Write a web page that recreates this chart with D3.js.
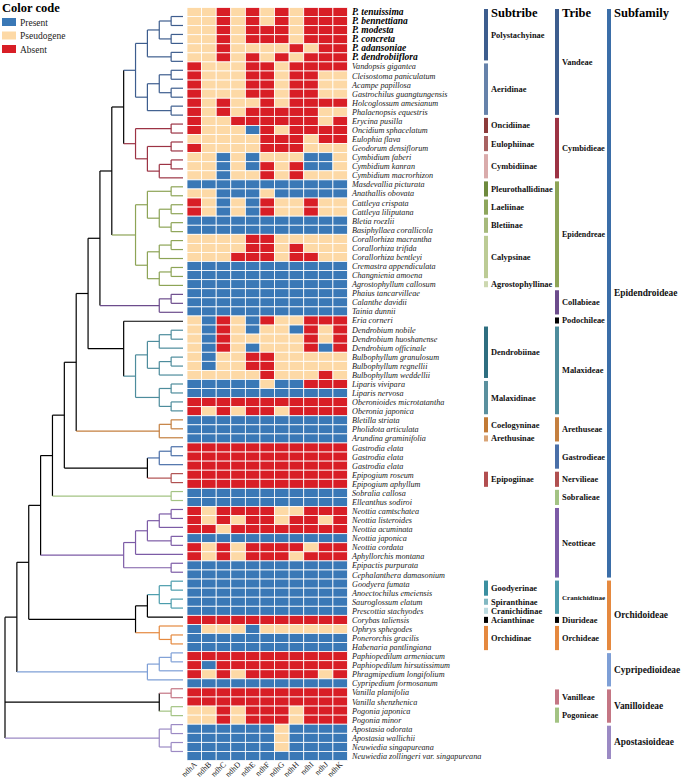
<!DOCTYPE html>
<html>
<head>
<meta charset="utf-8">
<script src="https://cdn.jsdelivr.net/npm/d3@7"></script>
<style>
  body { margin: 0; background: #fff; }
  svg { display: block; font-family: "Liberation Serif", "DejaVu Serif", serif; }
</style>
</head>
<body>
<svg id="chart" width="685" height="782"></svg>
<script>
// genes (columns)
const genes = ['ndhA','ndhB','ndhC','ndhD','ndhE','ndhF','ndhG','ndhH','ndhI','ndhJ','ndhK'];

// species (rows, top to bottom)
const species = [
  'P. tenuissima','P. bennettiana','P. modesta','P. concreta','P. adansoniae','P. dendrobiiflora',
  'Vandopsis gigantea','Cleisostoma paniculatum','Acampe papillosa','Gastrochilus guangtungensis',
  'Holcoglossum amesianum','Phalaenopsis equestris','Erycina pusilla','Oncidium sphacelatum',
  'Eulophia flava','Geodorum densiflorum','Cymbidium faberi','Cymbidium kanran','Cymbidium macrorhizon',
  'Masdevallia picturata','Anathallis obovata','Cattleya crispata','Cattleya liliputana','Bletia roezlii',
  'Basiphyllaea corallicola','Corallorhiza macrantha','Corallorhiza trifida','Corallorhiza bentleyi',
  'Cremastra appendiculata','Changnienia amoena','Agrostophyllum callosum','Phaius tancarvilleae',
  'Calanthe davidii','Tainia dunnii','Eria corneri','Dendrobium nobile','Dendrobium huoshanense',
  'Dendrobium officinale','Bulbophyllum granulosum','Bulbophyllum regnellii','Bulbophyllum weddellii',
  'Liparis vivipara','Liparis nervosa','Oberonioides microtatantha','Oberonia japonica','Bletilla striata',
  'Pholidota articulata','Arundina graminifolia','Gastrodia elata','Gastrodia elata','Gastrodia elata',
  'Epipogium roseum','Epipogium aphyllum','Sobralia callosa','Elleanthus sodiroi','Neottia camtschatea',
  'Neottia listeroides','Neottia acuminata','Neottia japonica','Neottia cordata','Aphyllorchis montana',
  'Epipactis purpurata','Cephalanthera damasonium','Goodyera fumata','Anoectochilus emeiensis',
  'Sauroglossum elatum','Prescottia stachyodes','Corybas taliensis','Ophrys sphegodes',
  'Ponerorchis gracilis','Habenaria pantlingiana','Paphiopedilum armeniacum','Paphiopedilum hirsutissimum',
  'Phragmipedium longifolium','Cypripedium formosanum','Vanilla planifolia','Vanilla shenzhenica',
  'Pogonia japonica','Pogonia minor','Apostasia odorata','Apostasia wallichii','Neuwiedia singapureana',
  'Neuwiedia zollingeri var. singapureana'
];
const boldRows = 6;

// gene status per species: P = present, S = pseudogene, A = absent (ndhA..ndhK)
const status = [
  'SSASASASAAA','SSASASASAAA','SSASAAASAAA','SSASAAASAAA','SSASSSSASAA','SSASASASAAA',
  'ASSSAASAAAA','ASSSAASAASS','ASSSAASAASS','ASSSAASAASS','ASASSASAAAA','ASASAAAAASS',
  'ASSAAAAAASA','ASSSPASAAAA','SSSSSAAASAA','ASSSSAAASSS','SSPSPSSSPPS','SSPSPASAPPS',
  'SSPSSASASSS','PPPPPPPPPPP','SSPPPSPPPPP','ASPSPASSASS','ASPSPASSASS','PPPPPPPPPPP',
  'PPPPPPPPPPP','SSSSAASSSSS','SSSSAASASSS','SSSAAASAASS','PPPPPPPPPPP','PPPPPPPPPPP',
  'PPPPPPPPPPP','PPPPPPPPPPP','PPPPPPPPPPP','PPPPPPPPPPP','SPASPASSAAA','SPASPSSPASA',
  'SPASSSSSASA','SPASPSSSAPA','SPSSAASSSSS','SPSSAASSSSS','SSSSSASSSAS','PPPPPSPPAAA',
  'PPPPPPPPPPP','AAAAAAAAAAA','ASASAASAAAA','PPPPPPPPPPP','PPPPPPPPPPP','PPPPPPPPPPP',
  'AAAAAAAAAAA','AAAAAAAAAAA','AAAAAAAAAAA','AAAAAAAAAAA','AAAAAAAAAAA','PPPPPPPPPPP',
  'PPPPPPPPPPP','ASAAAASSAAA','ASASAASAASA','AASAAAAAAAA','PPPPPPPPPPP','ASASAAAASAA',
  'ASASAAASAAA','PPPPPPPPPPP','PPPPPPPPPPP','PPPPPPPPPPP','PPPPPPPPPPP','PPPPPPPPPPP',
  'PPPPPPPPPPP','AAAAAAAAAAA','PSSSPSSSSSS','PPPPPPPPPPP','PPPPPPPPPPP','AAAAAAAAAAA',
  'APAAAAAAAAA','ASASAAAAASA','PPPPPPPPPPP','AAAAAAAAAAA','AAAAAAAAAAA','SSASAAASAAA',
  'SSASAAASAAA','PPPPPPSPPPP','PPPPPPSPPPP','PPPPPPSPPPP','PPPPPPPPPPP'
];

// legend
const statusCodes = ['P','S','A'];
const statusNames = ['Present','Pseudogene','Absent'];
const statusColors = ['#3a78b6','#fdd9a6','#d81e26'];

// classification groups (first row, last row; 1-based)
const subtribeNames = ['Polystachyinae','Aeridinae','Oncidiinae','Eulophiinae','Cymbidiinae','Pleurothallidinae',
  'Laeliinae','Bletiinae','Calypsinae','Agrostophyllinae','Dendrobiinae','Malaxidinae','Coelogyninae',
  'Arethusinae','Epipogiinae','Goodyerinae','Spiranthinae','Cranichidinae','Acianthinae','Orchidinae'];
const subtribeStart = [1,7,13,15,17,20,22,24,26,31,36,42,46,48,52,64,66,67,68,69];
const subtribeEnd   = [6,12,14,16,19,21,23,25,30,31,41,45,47,48,53,65,66,67,68,71];
const subtribeColors = ['#3d5d8e','#6682aa','#8c3b3b','#a86262','#d9abab','#6e8a3e','#8ea65c','#a7ba7c',
  '#bccb95','#cdd8b0','#2e6e80','#5a909e','#c27a35','#d9a476','#b24e50','#3b8fa0','#82b8c2','#bcdbe1',
  '#000000','#e5893f'];

const tribeNames = ['Vandeae','Cymbidieae','Epidendreae','Collabieae','Podochileae','Malaxideae','Arethuseae',
  'Gastrodieae','Nervilieae','Sobralieae','Neottieae','Cranichidinae','Diurideae','Orchideae','Vanilleae','Pogonieae'];
const tribeStart = [1,13,20,32,35,36,46,49,52,54,56,64,68,69,76,78];
const tribeEnd   = [12,19,31,34,35,45,48,51,53,55,63,67,68,71,77,79];
const tribeColors = ['#3d5d8e','#9c3344','#8da456','#6c4c8c','#000000','#4d8c9c','#c47f3f','#4a6fa8',
  '#b05050','#a3c383','#7c5ba6','#4b9cac','#000000','#e5893f','#c47684','#a3c383'];

const subfamilyNames = ['Epidendroideae','Orchidoideae','Cypripedioideae','Vanilloideae','Apostasioideae'];
const subfamilyStart = [1,64,72,76,80];
const subfamilyEnd   = [63,71,75,79,83];
const subfamilyColors = ['#3b6ea8','#e5893f','#7e9fd6','#c47684','#9b8ac4'];

// phylogeny topology (leaf = row number)
const tree = [
  [
    [
      [
        [
          [
            [
              [
                [
                  [
                    [
                      [[[[1,2],[3,4]],[5,6]], [[[7,8],[9,10]],[11,12]]],
                      [[13,14],[[15,16],[[17,18],19]]]
                    ],
                    [[[20,21],[[22,23],[24,25]]], [[[26,27],28],[[29,30],31]]]
                  ],
                  [[32,33],34]
                ],
                [35, [[[[36,37],38],[[39,40],41]], [[42,43],[44,45]]]]
              ],
              [[46,47],48]
            ],
            [[[49,50],51],[52,53]]
          ],
          [54,55]
        ],
        [[[[[56,57],58],[59,60]],61],[62,63]]
      ],
      [[[[64,65],[66,67]],68],[69,[70,71]]]
    ],
    [[[72,73],74],75]
  ],
  [[76,77],[78,79]],
  [[80,81],[82,83]]
];

// ---------------------------------------------------------------
const svg = d3.select('#chart');
const n = species.length;
const rowIdx = d3.range(1, n + 1);

const y = d3.scaleBand().domain(rowIdx).range([7.5, 760.5]).paddingInner(0);
const x = d3.scaleBand().domain(genes).range([187, 347.5]).paddingInner(0);
const color = d3.scaleOrdinal().domain(statusCodes).range(statusColors);

// heatmap cells
const cells = [];
status.forEach((s, i) => {
  genes.forEach((g, j) => cells.push({row: i + 1, gene: g, v: s[j]}));
});
svg.append('g').selectAll('rect')
  .data(cells)
  .enter()
  .append('rect')
    .attr('x', d => x(d.gene))
    .attr('y', d => y(d.row))
    .attr('width', x.bandwidth())
    .attr('height', y.bandwidth())
    .attr('fill', d => color(d.v))
    .attr('stroke', '#ffffff')
    .attr('stroke-width', 0.8);

// species labels
svg.append('g').selectAll('text')
  .data(species)
  .enter()
  .append('text')
    .attr('x', 352)
    .attr('y', (d, i) => y(i + 1) + y.bandwidth() / 2 + 3)
    .attr('font-style', 'italic')
    .attr('font-weight', (d, i) => i < boldRows ? 'bold' : 'normal')
    .attr('font-size', (d, i) => i < boldRows ? '9.5px' : '8.2px')
    .attr('fill', (d, i) => i < boldRows ? '#000' : '#222')
    .text(d => d);

// gene labels
svg.append('g').selectAll('text')
  .data(genes)
  .enter()
  .append('text')
    .attr('transform', d => `translate(${x(d) + x.bandwidth() / 2 + 3},765) rotate(-45)`)
    .attr('text-anchor', 'end')
    .attr('font-size', '8px')
    .attr('fill', '#222')
    .text(d => d);

// classification columns
const drawGroups = function(names, starts, ends, colors, barX, header, fs, maxW) {
  const g = svg.append('g');
  g.append('text')
    .attr('x', barX + 7)
    .attr('y', 17)
    .attr('font-weight', 'bold')
    .attr('font-size', '12.5px')
    .text(header);
  names.forEach((nm, i) => {
    const y0 = y(starts[i]) + 1.5;
    const y1 = y(ends[i]) + y.bandwidth() - 1.5;
    g.append('rect')
      .attr('x', barX)
      .attr('y', y0)
      .attr('width', 4)
      .attr('height', Math.max(y1 - y0, 4))
      .attr('fill', colors[i]);
    const t = g.append('text')
      .attr('x', barX + 7)
      .attr('y', (y0 + y1) / 2 + 3)
      .attr('font-weight', 'bold')
      .attr('font-size', fs + 'px')
      .attr('fill', '#111')
      .text(nm);
    // shrink labels that would run into the next column
    const w = t.node().getComputedTextLength();
    if (w > maxW) t.attr('font-size', (fs * maxW / w) + 'px');
  });
};
drawGroups(subtribeNames, subtribeStart, subtribeEnd, subtribeColors, 484, 'Subtribe', 8.4, 62);
drawGroups(tribeNames, tribeStart, tribeEnd, tribeColors, 555, 'Tribe', 8.4, 43);
drawGroups(subfamilyNames, subfamilyStart, subfamilyEnd, subfamilyColors, 607, 'Subfamily', 9.4, 72);

// legend
const leg = svg.append('g');
leg.append('text').attr('x', 2).attr('y', 12)
  .attr('font-weight', 'bold').attr('font-size', '12.5px').text('Color code');
statusNames.forEach((nm, i) => {
  leg.append('rect').attr('x', 2).attr('y', 18 + i * 13.5).attr('width', 14).attr('height', 8)
    .attr('fill', statusColors[i]);
  leg.append('text').attr('x', 20).attr('y', 25.5 + i * 13.5)
    .attr('font-size', '9.5px').attr('fill', '#222').text(nm);
});

// phylogeny
const leafColor = function(r) {
  for (let i = 0; i < tribeNames.length; i++) {
    if (r >= tribeStart[i] && r <= tribeEnd[i]) return tribeColors[i];
  }
  for (let i = 0; i < subfamilyNames.length; i++) {
    if (r >= subfamilyStart[i] && r <= subfamilyEnd[i]) return subfamilyColors[i];
  }
  return '#000';
};
const root = d3.hierarchy(tree, d => Array.isArray(d) ? d : null);
const treeH = y(n) - y(1);
d3.cluster().size([treeH, 178]).separation(() => 1)(root);
root.eachAfter(node => {
  if (!node.children) {
    node.col = leafColor(node.data);
  } else {
    const cs = node.children.map(c => c.col);
    node.col = cs.every(c => c === cs[0]) ? cs[0] : '#000';
  }
});
const yOff = y(1) + y.bandwidth() / 2;
const tx = d => 5 + d.y;
const ty = d => yOff + d.x;
const tg = svg.append('g').attr('fill', 'none').attr('stroke-width', 1.2);
root.descendants().forEach(node => {
  if (node.children) {
    const ys = node.children.map(ty);
    tg.append('path')
      .attr('d', `M${tx(node)},${d3.min(ys)}V${d3.max(ys)}`)
      .attr('stroke', node.col);
  }
  if (node.parent) {
    tg.append('path')
      .attr('d', `M${tx(node.parent)},${ty(node)}H${tx(node)}`)
      .attr('stroke', node.col);
  }
});
</script>
</body>
</html>
